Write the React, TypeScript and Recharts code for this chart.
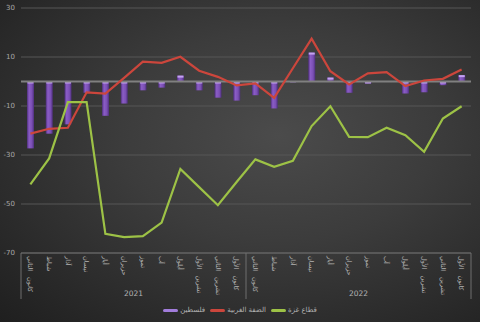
import React from 'react';
import {
  ComposedChart,
  Bar,
  Line,
  XAxis,
  YAxis,
  CartesianGrid,
  ReferenceLine,
  Legend
} from 'recharts';

const monthNames = [
  'كانون الثاني', 'شباط', 'آذار', 'نيسان', 'أيار', 'حزيران',
  'تموز', 'آب', 'أيلول', 'تشرين الأول', 'تشرين الثاني', 'كانون الأول'
];
const years = ['2021', '2022'];

// فلسطين (bars)
const palestine = [
  -27.3, -21.3, -17.5, -4.6, -14, -9, -3.6, -2.5, 2.4, -3.6, -6.6, -7.8,
  -5.6, -11, -0.3, 11.8, 1.6, -4.6, -0.8, 0.1, -4.9, -4.4, -1.5, 2.6
];
// الضفة الغربية
const westBank = [
  -21.3, -19.3, -18.9, -4.4, -4.9, 1.5, 8.1, 7.6, 10.1, 4.4, 1.9, -1.6,
  -0.8, -6.7, 5.4, 17.5, 4.2, -1.2, 3.3, 3.8, -1.9, 0.4, 1.1, 4.9
];
// قطاع غزة
const gaza = [
  -42, -31.4, -8.4, -8.4, -62.2, -63.5, -63.1, -57.6, -35.7, -43.1, -50.5, -41,
  -31.8, -34.8, -32.4, -18.2, -10.1, -22.6, -22.7, -18.9, -21.9, -28.7, -15.1, -10.1
];

const yTicks = [-70, -50, -30, -10, 10, 30];

const seriesNames = { palestine: 'فلسطين', westBank: 'الضفة الغربية', gaza: 'قطاع غزة' };

const COLORS = {
  bar: '#7a4fb4',
  barCap: '#c4a3f0',
  westBank: '#cc463c',
  gaza: '#9dc246',
  text: '#b4b4b4',
  grid: '#575757'
};

const FONT = '"DejaVu Sans", sans-serif';

const data = palestine.map((v, i) => ({
  month: monthNames[i % 12],
  year: years[Math.floor(i / 12)],
  palestine: v,
  westBank: westBank[i],
  gaza: gaza[i]
}));

const MonthTick = (props: any) => {
  const { x, y, payload } = props;
  const i = payload?.index ?? props.index;
  const half = payload?.offset || 9.4;
  return (
    <g>
      <text
        transform={`translate(${x},${y + 1}) rotate(90)`}
        fontSize={6.5}
        fill={COLORS.text}
        fontFamily={FONT}
        dy="0.35em"
        wordSpacing={4}
      >
        {payload.value}
      </text>
      {i % 12 === 0 && (
        <>
          <line x1={x - half} x2={x - half} y1={y - 2} y2={y + 44} stroke="#6e6e6e" />
          <text
            x={x - half + 12 * half}
            y={y + 41}
            textAnchor="middle"
            fontSize={7.5}
            fill={COLORS.text}
            fontFamily={FONT}
          >
            {data[i].year}
          </text>
        </>
      )}
      {i === data.length - 1 && (
        <line x1={x + half} x2={x + half} y1={y - 2} y2={y + 44} stroke="#6e6e6e" />
      )}
    </g>
  );
};

const BarShape = (props: any) => {
  const { x, y, width, height, index } = props;
  if (!height) return null;
  const top = height < 0 ? y + height : y;
  const h = Math.abs(height);
  const id = `barg${index}`;
  return (
    <g>
      <defs>
        <linearGradient id={id} x1="0" y1="0" x2="1" y2="0">
          <stop offset="0%" stopColor="#4e2f7c" />
          <stop offset="30%" stopColor="#8b5dc6" />
          <stop offset="70%" stopColor={COLORS.bar} />
          <stop offset="100%" stopColor="#4e2f7c" />
        </linearGradient>
      </defs>
      <rect x={x} y={top} width={width} height={h} fill={`url(#${id})`} />
      <rect x={x + 0.5} y={top} width={width - 1} height={Math.min(2, h)} fill={COLORS.barCap} />
    </g>
  );
};

const legendItems = [
  { name: seriesNames.palestine, color: '#a27ddc' },
  { name: seriesNames.westBank, color: COLORS.westBank },
  { name: seriesNames.gaza, color: COLORS.gaza }
];

const LegendContent = () => (
  <div
    style={{
      display: 'flex',
      justifyContent: 'center',
      alignItems: 'center',
      height: 18,
      gap: 5,
      direction: 'ltr',
      fontFamily: FONT,
      fontSize: 7,
      color: COLORS.text
    }}
  >
    {legendItems.map(item => (
      <div key={item.name} style={{ display: 'flex', alignItems: 'center', gap: 2 }}>
        <span
          style={{ width: 15, height: 3, borderRadius: 2, background: item.color, display: 'inline-block' }}
        />
        <span>{item.name}</span>
      </div>
    ))}
  </div>
);

export default function App() {
  return (
    <div
      style={{
        position: 'absolute',
        top: 0,
        left: 0,
        width: 480,
        height: 322,
        background: 'radial-gradient(ellipse at 58% 42%, #4b4b4b 0%, #3c3c3c 40%, #262626 85%, #1f1f1f 100%)'
      }}
    >
      <ComposedChart
        width={480}
        height={322}
        data={data}
        margin={{ top: 8, right: 9, left: 0, bottom: 3 }}
        barSize={7}
      >
        <CartesianGrid vertical={false} stroke={COLORS.grid} />
        <XAxis
          dataKey="month"
          interval={0}
          height={48}
          tickSize={0}
          tickMargin={2}
          tickLine={false}
          axisLine={{ stroke: '#6a6a6a' }}
          tick={<MonthTick />}
        />
        <YAxis
          domain={[-70, 30]}
          ticks={yTicks}
          width={21}
          axisLine={false}
          tickLine={false}
          tickSize={0}
          tickMargin={6}
          tick={{ fontSize: 7, fill: '#a8a8a8', fontFamily: FONT }}
        />
        <ReferenceLine y={0} stroke="#808080" strokeWidth={2} />
        <Bar dataKey="palestine" name={seriesNames.palestine} shape={<BarShape />} isAnimationActive={false} />
        <Line
          dataKey="westBank"
          name={seriesNames.westBank}
          stroke={COLORS.westBank}
          strokeWidth={2.2}
          dot={false}
          type="linear"
          isAnimationActive={false}
        />
        <Line
          dataKey="gaza"
          name={seriesNames.gaza}
          stroke={COLORS.gaza}
          strokeWidth={2.2}
          dot={false}
          type="linear"
          isAnimationActive={false}
        />
        <Legend
          verticalAlign="bottom"
          align="center"
          height={18}
          wrapperStyle={{ left: 0, width: 480 }}
          content={<LegendContent />}
        />
      </ComposedChart>
    </div>
  );
}
